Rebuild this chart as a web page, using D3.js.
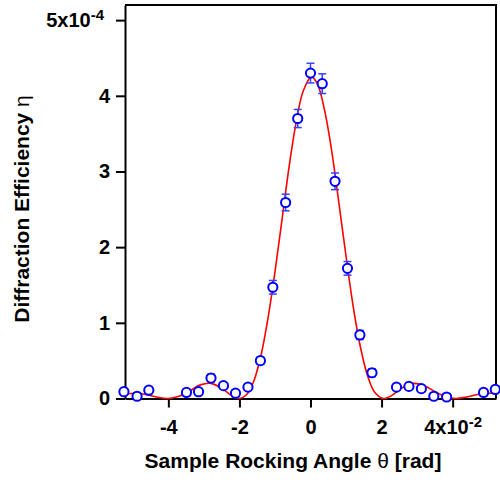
<!DOCTYPE html>
<html>
<head>
<meta charset="utf-8">
<script src="https://cdn.jsdelivr.net/npm/d3@7"></script>
<style>
	body { margin: 0; background: #fff; }
	svg { font-family: "Liberation Sans", Arial, sans-serif; }
</style>
</head>
<body>
<svg id="chart" width="500" height="480"></svg>
<script>
(function() {

	// measured points (angle in 1e-2 rad, efficiency in 1e-4)
	var angles = [-5.25, -4.88, -4.55, -3.49, -3.15, -2.80, -2.45, -2.11, -1.76, -1.41,
		-1.06, -0.70, -0.36, 0.00, 0.33, 0.69, 1.04, 1.39, 1.73, 2.42, 2.77, 3.12, 3.47, 3.83, 4.87, 5.20];
	var efficiency = [0.09, 0.03, 0.11, 0.08, 0.09, 0.27, 0.17, 0.07, 0.15, 0.50,
		1.47, 2.59, 3.70, 4.30, 4.16, 2.87, 1.72, 0.84, 0.34, 0.15, 0.16, 0.13, 0.03, 0.02, 0.08, 0.12];
	var errors = [0.04, 0.04, 0.04, 0.04, 0.04, 0.05, 0.04, 0.04, 0.04, 0.05,
		0.09, 0.11, 0.12, 0.13, 0.13, 0.11, 0.09, 0.06, 0.05, 0.04, 0.04, 0.04, 0.04, 0.04, 0.04, 0.04];

	// fitted curve
	var fitX = [-5.22, -4.9, -4.6, -4.3, -4.0, -3.7, -3.4, -3.1, -2.8, -2.5, -2.2, -2.0, -1.8, -1.6, -1.4, -1.2,
		-1.0, -0.8, -0.6, -0.4, -0.2, 0.03, 0.2, 0.4, 0.6, 0.8, 1.0, 1.2, 1.4, 1.6, 1.8, 2.06, 2.3, 2.6,
		2.9, 3.2, 3.5, 3.8, 4.09, 4.4, 4.7, 5.0, 5.22];
	var fitY = [0.06, 0.07, 0.05, 0.016, 0.0, 0.03, 0.10, 0.18, 0.20, 0.135, 0.034, 0.0, 0.05, 0.225, 0.555, 1.05,
		1.67, 2.37, 3.07, 3.66, 4.07, 4.25, 4.15, 3.80, 3.26, 2.58, 1.88, 1.22, 0.69, 0.31, 0.087, 0.0, 0.045, 0.147,
		0.20, 0.17, 0.092, 0.024, 0.0, 0.02, 0.053, 0.07, 0.066];

	var xTicks = [-4, -2, 0, 2, 4];
	var yTicks = [0, 1, 2, 3, 4, 5];

	var LEFT = 125, RIGHT = 496, TOP = 5, BOTTOM = 398.5;
	var FONT = '"Liberation Sans", Arial, sans-serif';

	var svg = d3.select('#chart');
	var x = d3.scaleLinear().domain([-5.22, 5.22]).range([LEFT, RIGHT]);
	var y = d3.scaleLinear().domain([0, 5.2]).range([BOTTOM, TOP]);

	// frame top + right
	svg.append('path')
		.attr('d', 'M' + LEFT + ',' + TOP + 'H' + RIGHT + 'V' + BOTTOM)
		.attr('fill', 'none').attr('stroke', '#000').attr('stroke-width', 2);

	var xAxis = svg.append('g').attr('transform', 'translate(0,' + BOTTOM + ')')
		.call(d3.axisBottom(x).tickValues(xTicks).tickSize(9).tickSizeOuter(0).tickPadding(9)
			.tickFormat(function(d) { return d == 4 ? '4x10' : d3.format('d')(d).replace('−', '-'); }));
	var yAxis = svg.append('g').attr('transform', 'translate(' + LEFT + ',0)')
		.call(d3.axisLeft(y).tickValues(yTicks).tickSize(9).tickSizeOuter(0).tickPadding(6)
			.tickFormat(function(d) { return d == 5 ? '5x10' : d; }));

	[xAxis, yAxis].forEach(function(ax) {
		ax.attr('font-size', 20).attr('font-family', FONT);
		ax.select('.domain').attr('stroke-width', 2);
		ax.selectAll('.tick line').attr('stroke-width', 2);
		ax.selectAll('.tick text')
			.attr('font-size', 20).attr('font-weight', 'bold').attr('fill', '#000');
	});
	xAxis.selectAll('.tick text').attr('dy', '0.85em');
	xAxis.selectAll('.tick').filter(function(d) { return d == 4; }).select('text')
		.append('tspan').attr('dy', '-0.45em').attr('font-size', 15).text('-2');
	yAxis.selectAll('.tick').filter(function(d) { return d == 5; }).select('text')
		.attr('dx', '-0.3em')
		.append('tspan').attr('dy', '-0.5em').attr('font-size', 15).text('-4');

	// fit line
	var fit = fitX.map(function(v, i) { return [v, fitY[i]]; });
	svg.append('path')
		.datum(fit)
		.attr('fill', 'none').attr('stroke', '#ff0000').attr('stroke-width', 1.6)
		.attr('d', d3.line().x(function(d) { return x(d[0]); }).y(function(d) { return y(d[1]); })
			.curve(d3.curveCatmullRom));

	var pts = angles.map(function(a, i) { return {a: a, v: efficiency[i], e: errors[i]}; });

	// error bars
	var eb = svg.append('g').attr('stroke', '#3344ff').attr('stroke-width', 1.5);
	pts.forEach(function(p) {
		var cx = x(p.a), y0 = y(p.v - p.e), y1 = y(p.v + p.e);
		eb.append('line').attr('x1', cx).attr('x2', cx).attr('y1', y0).attr('y2', y1);
		eb.append('line').attr('x1', cx - 4).attr('x2', cx + 4).attr('y1', y0).attr('y2', y0);
		eb.append('line').attr('x1', cx - 4).attr('x2', cx + 4).attr('y1', y1).attr('y2', y1);
	});

	svg.append('g').selectAll('circle').data(pts).enter().append('circle')
		.attr('cx', function(d) { return x(d.a); })
		.attr('cy', function(d) { return y(d.v); })
		.attr('r', 4.6)
		.attr('fill', '#fff').attr('stroke', '#0000ff').attr('stroke-width', 2);

	// axis titles
	var xt = svg.append('text').attr('x', 293).attr('y', 468).attr('text-anchor', 'middle')
		.attr('font-size', 21).attr('font-weight', 'bold').text('Sample Rocking Angle ');
	xt.append('tspan').attr('font-weight', 'normal').text('θ');
	xt.append('tspan').text(' [rad]');

	var yt = svg.append('text').attr('transform', 'translate(29,209) rotate(-90)').attr('text-anchor', 'middle')
		.attr('font-size', 21).attr('font-weight', 'bold').text('Diffraction Efficiency ');
	yt.append('tspan').attr('font-weight', 'normal').text('η');

}());
</script>
</body>
</html>
